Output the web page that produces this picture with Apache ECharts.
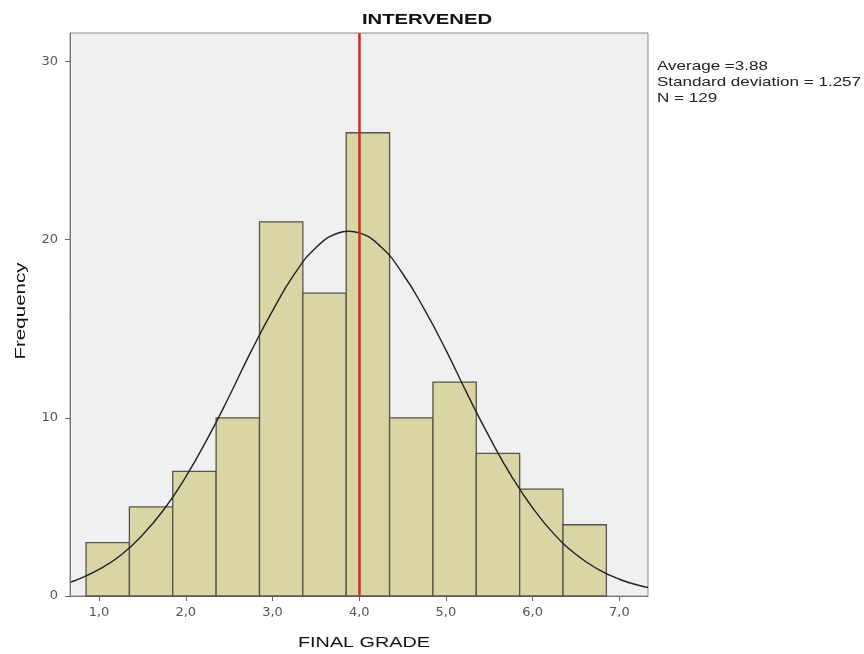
<!DOCTYPE html>
<html>
<head>
<meta charset="utf-8">
<script src="https://cdn.jsdelivr.net/npm/echarts@6/dist/echarts.min.js"></script>
<style>
  html, body { margin: 0; padding: 0; background: #fff; }
  #main { width: 864px; height: 654px; }
</style>
</head>
<body>
<div id="main"></div>
<script>
// histogram bins (left edge, width 0.5) and counts
const binStart = [0.85, 1.35, 1.85, 2.35, 2.85, 3.35, 3.85, 4.35, 4.85, 5.35, 5.85, 6.35];
const binWidth = 0.5;
const counts = [3, 5, 7, 10, 21, 17, 26, 10, 12, 8, 6, 4];
// normal curve
const curveX = [0.67, 0.75, 1.0, 1.25, 1.5, 1.75, 2.0, 2.25, 2.5, 2.75, 3.0, 3.25, 3.5, 3.75, 3.88, 4.0, 4.25, 4.5, 4.75, 5.0, 5.25, 5.5, 5.75, 6.0, 6.25, 6.5, 6.75, 7.0, 7.25, 7.33];
const curveY = [0.78, 0.92, 1.49, 2.29, 3.42, 4.87, 6.69, 8.83, 11.2, 13.7, 16.0, 18.05, 19.55, 20.36, 20.47, 20.38, 19.6, 18.1, 16.1, 13.8, 11.3, 8.93, 6.77, 4.94, 3.46, 2.33, 1.51, 0.94, 0.56, 0.48];
const meanLine = 4.0;
const xTicks = [1, 2, 3, 4, 5, 6, 7];
const statLines = ["Average =3.88", "Standard deviation = 1.257", "N = 129"];

const FONT = "Liberation Sans, Arial, sans-serif";
let chart = echarts.init(document.getElementById("main"));

let barData = [];
binStart.forEach((s, i) => {
  barData.push([s, s + binWidth, counts[i]]);
});
let curveData = curveX.map((x, i) => [x, curveY[i]]);

// the texts in the picture are a bit wide, so they get stretched sideways
let texts = [
  { type: "text", x: 427, y: 20, scaleX: 1.35,
    style: { text: "INTERVENED", fill: "#111", font: "bold 15px " + FONT, align: "center", verticalAlign: "middle" } },
  { type: "text", x: 364, y: 643, scaleX: 1.32,
    style: { text: "FINAL GRADE", fill: "#111", font: "15px " + FONT, align: "center", verticalAlign: "middle" } },
  { type: "text", x: 21, y: 311, rotation: Math.PI / 2, scaleX: 1.37,
    style: { text: "Frequency", fill: "#111", font: "15px " + FONT, align: "center", verticalAlign: "middle" } },
];
statLines.forEach((t, i) => {
  texts.push({
    type: "text", x: 657, y: 66 + i * 16, scaleX: 1.31,
    style: { text: t, fill: "#222", font: "13px " + FONT, align: "left", verticalAlign: "middle" },
  });
});

let option = {
  animation: false,
  textStyle: { fontFamily: FONT },
  graphic: texts,
  grid: {
    left: 70,
    top: 33,
    right: 216,
    bottom: 58,
    show: true,
    backgroundColor: "#f0f0f0",
    borderColor: "#8a8a8a",
    borderWidth: 1,
  },
  xAxis: {
    type: "value",
    min: 0.665,
    max: 7.33,
    splitLine: { show: false },
    axisLine: { show: true, onZero: false, lineStyle: { color: "#777", width: 1 } },
    axisTick: { show: true, customValues: xTicks, length: 5, lineStyle: { color: "#666" } },
    axisLabel: {
      customValues: xTicks,
      color: "#555",
      fontSize: 13,
      fontFamily: "DejaVu Sans",
      margin: 10,
      formatter: (v) => v.toFixed(1).replace(".", ","),
    },
  },
  yAxis: {
    type: "value",
    min: 0,
    max: 31.6,
    interval: 10,
    splitLine: { show: false },
    axisLine: { show: true, lineStyle: { color: "#777", width: 1 } },
    axisTick: { show: true, length: 5, lineStyle: { color: "#666" } },
    axisLabel: {
      color: "#555",
      fontSize: 13,
      fontFamily: "DejaVu Sans",
      margin: 12,
      showMaxLabel: false,
    },
  },
  series: [
    {
      type: "custom",
      data: barData,
      renderItem: function (params, api) {
        let p0 = api.coord([api.value(0), 0]);
        let p1 = api.coord([api.value(1), api.value(2)]);
        return {
          type: "rect",
          shape: { x: p0[0], y: p1[1], width: p1[0] - p0[0], height: p0[1] - p1[1] },
          style: { fill: "#dad5a5", stroke: "#55544a", lineWidth: 1.3 },
        };
      },
      z: 2,
    },
    {
      type: "line",
      data: curveData,
      smooth: true,
      showSymbol: false,
      lineStyle: { color: "#222", width: 1.4 },
      z: 4,
      markLine: {
        silent: true,
        symbol: "none",
        label: { show: false },
        lineStyle: { color: "#cc2a22", width: 2.5, type: "solid" },
        data: [{ xAxis: meanLine }],
      },
    },
  ],
};
chart.setOption(option);
</script>
</body>
</html>
